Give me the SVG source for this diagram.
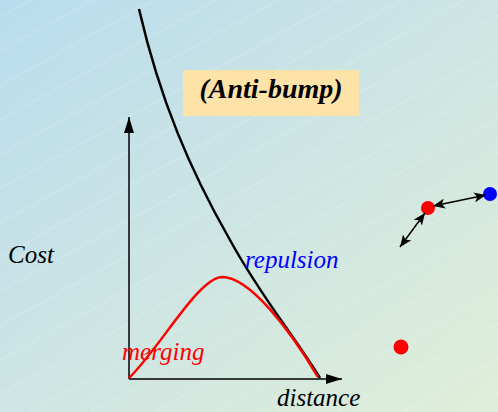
<svg xmlns="http://www.w3.org/2000/svg" width="498" height="412" viewBox="0 0 498 412">
<defs>
<linearGradient id="bg" x1="0" y1="0" x2="1" y2="1">
<stop offset="0" stop-color="#b9dcee"/>
<stop offset="0.5" stop-color="#cde5e3"/>
<stop offset="1" stop-color="#e0eed9"/>
</linearGradient>
<pattern id="hatch" patternUnits="userSpaceOnUse" width="60" height="30" patternTransform="rotate(-29)">
<line x1="0" y1="15" x2="60" y2="15" stroke="#ffffff" stroke-opacity="0.4" stroke-width="0.8" stroke-dasharray="2 1"/>
</pattern>
<marker id="ah" viewBox="0 0 12 10" refX="12" refY="5" markerWidth="12" markerHeight="10" markerUnits="userSpaceOnUse" orient="auto-start-reverse">
<path d="M0,0 L12,5 L0,10 L3,5 Z" fill="#000"/>
</marker>
<marker id="axh" viewBox="0 0 16 10" refX="16" refY="5" markerWidth="16" markerHeight="10" markerUnits="userSpaceOnUse" orient="auto">
<path d="M0,0 L16,5 L0,10 Z" fill="#000"/>
</marker>
</defs>
<style>
.lbl{font-family:'Liberation Serif','Times New Roman',serif;font-style:italic;font-size:25px}
.ttl{font-family:'Liberation Serif','Times New Roman',serif;font-style:italic;font-weight:bold;font-size:28px}
</style>
<rect width="498" height="412" fill="url(#bg)"/>
<rect width="498" height="412" fill="url(#hatch)"/>
<g id="title">
<rect x="183" y="70" width="176" height="46" fill="#fee3a8"/>
<text class="ttl" x="271" y="98" text-anchor="middle" fill="#000">(Anti-bump)</text>
</g>
<g id="axes" stroke="#000" stroke-width="1.5" fill="none">
<line x1="129" y1="379" x2="129" y2="117" marker-end="url(#axh)"/>
<line x1="129" y1="379" x2="342" y2="379" marker-end="url(#axh)"/>
</g>
<g id="curves" fill="none" stroke-width="2.5">
<path d="M139,9 C160,100 190,170 230,240 C260,295 290,330 320,378" stroke="#000"/>
<path d="M129,378 C160,348 198,278 222,277 C250,277 290,330 318,377" stroke="#ff0000"/>
</g>
<g id="labels">
<text class="lbl" x="8" y="263" fill="#000">Cost</text>
<text class="lbl" x="245" y="268" fill="#0000ff">repulsion</text>
<text class="lbl" x="122" y="360" fill="#ff0000">merging</text>
<text class="lbl" x="277" y="406" fill="#000">distance</text>
</g>
<g id="dot-red1"><circle cx="428" cy="208" r="7" fill="#ff0000"/></g>
<g id="dot-blue"><circle cx="490" cy="194" r="7" fill="#0000ff"/></g>
<g id="dot-red2"><circle cx="401" cy="347" r="7.5" fill="#ff0000"/></g>
<g id="connectors" stroke="#000" stroke-width="1.5" fill="none">
<line x1="433" y1="206" x2="486" y2="195" marker-start="url(#ah)" marker-end="url(#ah)"/>
<line x1="425" y1="213" x2="400" y2="247" marker-start="url(#ah)" marker-end="url(#ah)"/>
</g>
</svg>
